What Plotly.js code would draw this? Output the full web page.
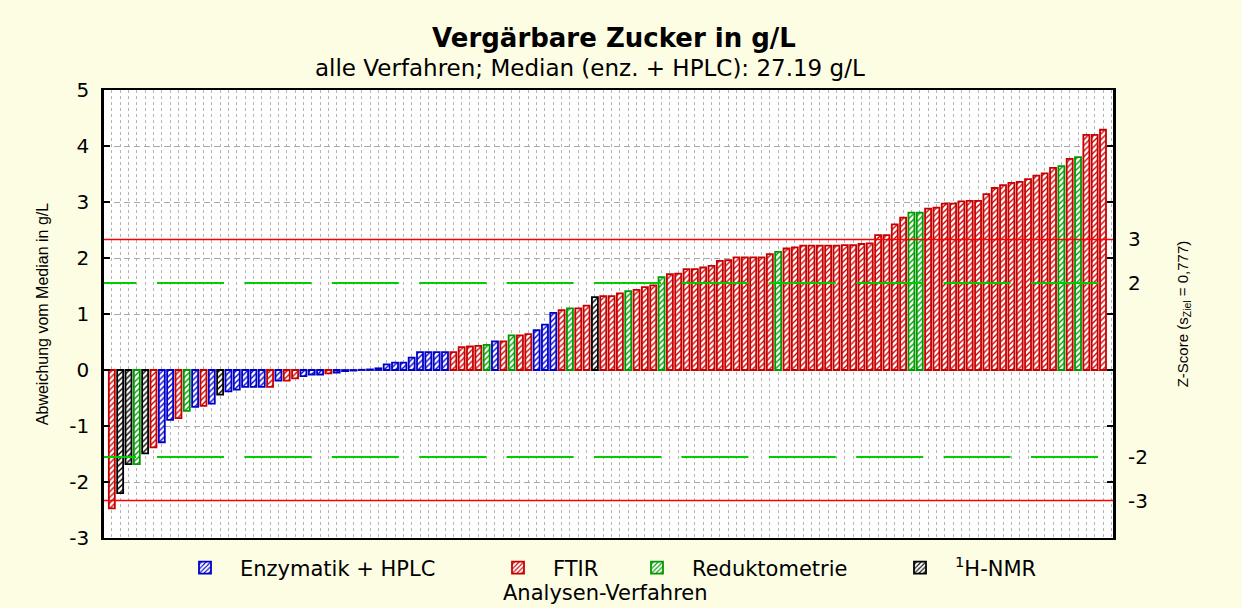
<!DOCTYPE html>
<html>
<head>
<meta charset="utf-8">
<script src="https://cdn.plot.ly/plotly-3.0.1.min.js"></script>
<style>
html,body{margin:0;padding:0;background:#fdfde3;}
#chart{width:1242px;height:608px;}
</style>
</head>
<body>
<div id="chart"></div>
<script>
// Deviation from the median (g/L), sorted ascending, one value per laboratory result
const deviation = [
  -2.47,-2.20,-1.68,-1.68,-1.49,-1.38,-1.29,-0.89,-0.86,-0.73,
  -0.66,-0.64,-0.60,-0.44,-0.38,-0.35,-0.30,-0.30,-0.30,-0.30,
  -0.19,-0.19,-0.15,-0.11,-0.08,-0.08,-0.06,-0.045,-0.02,-0.01,
   0.004,0.01,0.03,0.10,0.13,0.13,0.22,0.32,0.32,0.32,
   0.32,0.32,0.41,0.42,0.43,0.45,0.51,0.51,0.62,0.62,
   0.64,0.71,0.81,1.02,1.07,1.10,1.10,1.15,1.30,1.32,
   1.32,1.37,1.41,1.43,1.48,1.51,1.66,1.71,1.72,1.80,
   1.80,1.83,1.86,1.95,1.96,2.01,2.01,2.01,2.01,2.07,
   2.11,2.17,2.19,2.22,2.22,2.22,2.22,2.22,2.23,2.23,
   2.25,2.26,2.41,2.41,2.60,2.72,2.81,2.81,2.88,2.90,
   2.97,2.97,3.01,3.02,3.02,3.14,3.25,3.30,3.34,3.36,
   3.41,3.47,3.51,3.61,3.64,3.77,3.80,4.20,4.20,4.29
];
// Method of each result: E = Enzymatik + HPLC, F = FTIR, R = Reduktometrie, N = 1H-NMR
const method = [
  'F','N','N','R','N','F','E','E','F','R',
  'E','F','E','N','E','E','E','E','E','F',
  'E','F','F','E','E','E','F','E','E','E',
  'E','E','E','E','E','E','E','E','E','E',
  'E','F','F','F','F','R','E','F','R','F',
  'F','E','E','E','F','R','F','F','N','F',
  'F','F','R','F','F','F','R','F','F','F',
  'F','F','F','F','F','F','F','F','F','F',
  'R','F','F','F','F','F','F','F','F','F',
  'F','F','F','F','F','F','R','R','F','F',
  'F','F','F','F','F','F','F','F','F','F',
  'F','F','F','F','R','F','R','F','F','F'
];
const methodOrder = ['E','F','R','N'];
const methodNames = {E:'Enzymatik + HPLC', F:'FTIR', R:'Reduktometrie', N:'<sup>1</sup>H-NMR'};
const methodColors = {E:'#0000c8', F:'#c80000', R:'#009a00', N:'#000000'};
const legendIds = {E:'legend', F:'legend2', R:'legend3', N:'legend4'};
const legendTextX = {E:240, F:553, R:692, N:955};

const sZiel = 0.777;
const zLevels = [-3,-2,2,3];
const zLabels = ['-3','-2','2','3'];
const yTicks = [-3,-2,-1,0,1,2,3,4,5];
const yLabels = ['-3','-2','-1','0','1','2','3','4','5'];

const rank = deviation.map((v,i)=>i+1);

const traces = methodOrder.map(m => {
  const xs = [], ys = [];
  rank.forEach((r,i)=>{ if(method[i]===m){ xs.push(r); ys.push(deviation[i]); } });
  return {
    type:'bar', x:xs, y:ys, name:methodNames[m], legend:legendIds[m],
    marker:{
      color:methodColors[m],
      line:{color:methodColors[m], width:1.8},
      pattern:{shape:'/', fgcolor:methodColors[m], bgcolor:'#ffffff', size:4, solidity:0.35, fillmode:'replace'}
    },
    hoverinfo:'x+y'
  };
});
traces.push({type:'scatter', x:[], y:[], yaxis:'y2', showlegend:false, hoverinfo:'skip'});

const greenDash = '32px,21px,' + Array(12).fill('67px,20.4px').join(',');
const shapes = [];
zLevels.forEach(z=>{
  const big = Math.abs(z) === 3;
  shapes.push({
    type:'line', xref:'paper', x0:0, x1:1, yref:'y', y0:z*sZiel, y1:z*sZiel,
    line:{color: big ? '#ff0000' : '#00cc00', width: big ? 1.6 : 2, dash: big ? 'solid' : greenDash},
    layer:'above'
  });
});

const legends = {};
methodOrder.forEach(m=>{
  legends[legendIds[m]] = {
    xref:'container', yref:'container', x:(legendTextX[m]-70)/1242, y:1-568/608,
    xanchor:'left', yanchor:'middle', orientation:'h', itemwidth:60,
    bgcolor:'rgba(0,0,0,0)', borderwidth:0, font:{size:21, color:'#000'}
  };
});

const SANS = '"DejaVu Sans", "Liberation Sans", Arial, sans-serif';
const ARIAL = '"Liberation Sans", Arial, sans-serif';

const layout = Object.assign({
  width:1242, height:608,
  paper_bgcolor:'#fdfde3', plot_bgcolor:'#ffffff',
  margin:{l:104, r:129, t:90, b:70},
  font:{family:SANS, color:'#000', size:20},
  title:{text:'<b>Vergärbare Zucker in g/L</b>', xref:'paper', x:(614-104)/1009, xanchor:'center',
         yref:'container', y:1-38/608, yanchor:'middle', font:{family:SANS, size:26, color:'#000'}},
  annotations:[
    {text:'alle Verfahren; Median (enz. + HPLC): 27.19 g/L', xref:'paper', yref:'paper',
     x:(590-104)/1009, y:(538-68)/448, xanchor:'center', yanchor:'middle', showarrow:false,
     font:{family:SANS, size:23, color:'#000'}},
    {text:'Analysen-Verfahren', xref:'paper', yref:'paper',
     x:(605-104)/1009, y:(538-593)/448, xanchor:'center', yanchor:'middle', showarrow:false,
     font:{family:SANS, size:21, color:'#000'}}
  ],
  barmode:'overlay', bargap:0.28,
  showlegend:true,
  xaxis:{range:[0.06,121.2], showticklabels:false, ticks:'', showgrid:true, tick0:1, dtick:1,
         gridcolor:'#b4b4b4', griddash:'3px,3px', gridwidth:1, showline:true, linecolor:'#000',
         linewidth:2, mirror:true, zeroline:false},
  yaxis:{range:[-3,5], tickmode:'array', tickvals:yTicks, ticktext:yLabels, ticks:'inside', ticklen:6,
         tickwidth:1.5, tickcolor:'#000', showline:true, linewidth:2.5, linecolor:'#000', mirror:'ticks',
         showgrid:true, gridcolor:'#a8a8a8', griddash:'6px,4px', gridwidth:1, zeroline:false,
         ticklabelstandoff:8, tickfont:{family:SANS, size:20},
         title:{text:'Abweichung vom Median in g/L', standoff:17, font:{family:ARIAL, size:16}}},
  yaxis2:{overlaying:'y', side:'right', range:[-3/sZiel, 5/sZiel], tickmode:'array', tickvals:zLevels,
          ticktext:zLabels, ticks:'', showgrid:false, zeroline:false, showline:false,
          ticklabelstandoff:14, tickfont:{family:SANS, size:20},
          title:{text:'Z-Score (s<sub>Ziel</sub> = 0,777)', standoff:30, font:{family:ARIAL, size:15}}},
  shapes:shapes
}, legends);

Plotly.newPlot('chart', traces, layout, {displayModeBar:false, responsive:false});
</script>
</body>
</html>
